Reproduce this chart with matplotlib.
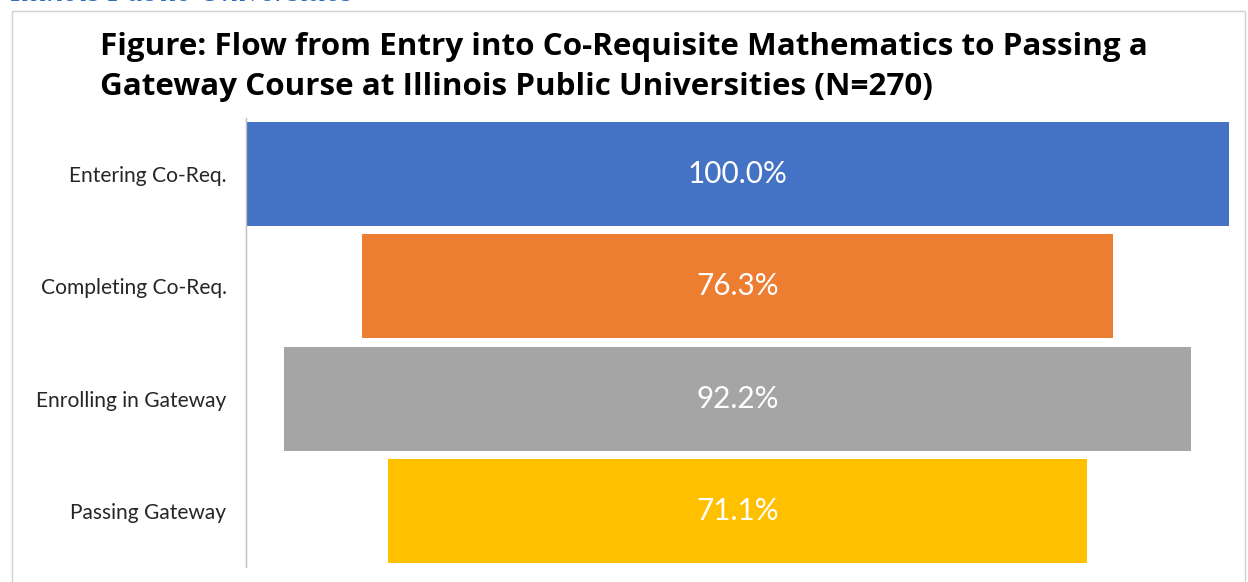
import matplotlib
matplotlib.use("Agg")
import matplotlib.pyplot as plt
from matplotlib.patches import Rectangle

categories = ["Entering Co-Req.", "Completing Co-Req.", "Enrolling in Gateway", "Passing Gateway"]
values = [100.0, 76.3, 92.2, 71.1]
value_labels = ["100.0%", "76.3%", "92.2%", "71.1%"]
colors = ["#4472C4", "#ED7D31", "#A5A5A5", "#FFC000"]
title_lines = ["Figure: Flow from Entry into Co-Requisite Mathematics to Passing a",
               "Gateway Course at Illinois Public Universities (N=270)"]
header = "Illinois Public Universities"

W, H = 1248, 582
fig = plt.figure(figsize=(W / 100, H / 100), dpi=100)
fig.patch.set_facecolor("white")
renderer = fig.canvas.get_renderer()


def fit(text_artist, target_px):
    """Scale font size so the rendered text width matches target pixels."""
    for _ in range(3):
        w = text_artist.get_window_extent(renderer=renderer).width
        text_artist.set_fontsize(text_artist.get_fontsize() * target_px / w)
    return text_artist.get_fontsize()


# outer frame
fig.add_artist(Rectangle((12 / W, -0.05), (1245 - 12) / W, 1 - 11 / H + 0.05,
                         transform=fig.transFigure, fill=False,
                         edgecolor="#D0D0D0", linewidth=1.0))

# clipped header text at the very top
hdr = fig.text(10 / W, 1 - 1 / H, header, fontsize=20, fontstyle="italic",
               family="Liberation Serif", color="#2F6EBA", va="baseline", ha="left")
fit(hdr, 342)

t1 = fig.text(100 / W, 1 - 55 / H, title_lines[0], fontsize=20, fontweight="bold",
              family="Open Sans", color="black", va="baseline", ha="left")
fs = fit(t1, 1046)
fig.text(100 / W, 1 - 95 / H, title_lines[1], fontsize=fs, fontweight="bold",
         family="Open Sans", color="black", va="baseline", ha="left")

ax = fig.add_axes([246 / W, 1 - 567 / H, (1229 - 246) / W, (567 - 118) / H])
y = list(range(len(categories)))
widths = [v / 100 for v in values]
lefts = [(1 - w) / 2 for w in widths]
ax.barh(y, widths, left=lefts, height=0.925, color=colors)

probe = fig.text(0, 0, value_labels[0], fontsize=20, family="Lato")
vfs = fit(probe, 100)
probe.remove()
for yi, lab in zip(y, value_labels):
    ax.text(0.5, yi, lab, ha="center", va="center", color="white",
            fontsize=vfs, family="Lato")

probe = fig.text(0, 0, categories[0], fontsize=13, family="Lato")
lfs = fit(probe, 158)
probe.remove()

ax.set_xlim(0, 1)
ax.set_ylim(3.5, -0.5)
ax.set_yticks(y)
ax.set_yticklabels(categories, fontsize=lfs, family="Lato", color="#262626")
ax.tick_params(axis="y", length=0, pad=14)
ax.set_xticks([])
for s in ["top", "right", "bottom"]:
    ax.spines[s].set_visible(False)
ax.spines["left"].set_color("#BFBFBF")
ax.spines["left"].set_linewidth(1.0)

fig.savefig("out.png", dpi=100)
